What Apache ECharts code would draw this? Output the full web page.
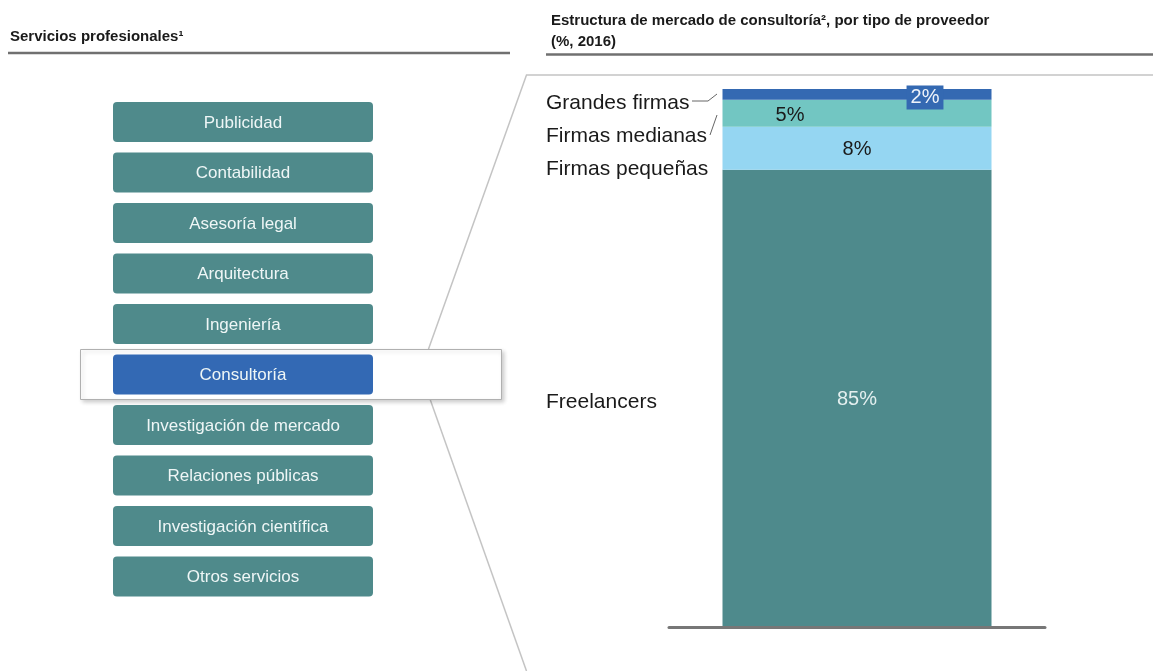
<!DOCTYPE html>
<html>
<head>
<meta charset="utf-8">
<script src="https://cdn.jsdelivr.net/npm/echarts@6/dist/echarts.min.js"></script>
<style>
html,body{margin:0;padding:0;background:#fff;}
#main{width:1153px;height:671px;}
</style>
</head>
<body>
<div id="main"></div>
<script>
// ---- data ----
const services = ['Publicidad','Contabilidad','Asesoría legal','Arquitectura','Ingeniería','Consultoría','Investigación de mercado','Relaciones públicas','Investigación científica','Otros servicios'];
const highlighted = 'Consultoría';
const providers = ['Freelancers','Firmas pequeñas','Firmas medianas','Grandes firmas'];
const shares = [85, 8, 5, 2];
const year = ['2016'];
const leftTitle = 'Servicios profesionales¹';
const rightTitle = 'Estructura de mercado de consultoría², por tipo de proveedor\n(%, 2016)';

// ---- styles ----
const FONT = '"Liberation Sans", Arial, sans-serif';
const colors = ['#4e8a8c', '#95d6f2', '#72c6c2', '#3469b2'];
const labelColors = ['#e3efef', '#1a1a1a', '#1a1a1a', '#eef3fa'];
const labelOffsets = [[0, 1], [0, 1], [-67, 2], [68, 3]];
const nameY = [402, 169, 136, 103];

const chart = echarts.init(document.getElementById('main'));

const graphics = [];
// titles
graphics.push({type:'text', left:10, top:29, style:{text:leftTitle, font:'bold 15px ' + FONT, fill:'#1a1a1a'}});
graphics.push({type:'text', left:551, top:10, style:{text:rightTitle, font:'bold 15px ' + FONT, fill:'#1a1a1a', lineHeight:21}});
// underlines
graphics.push({type:'line', shape:{x1:8,y1:53,x2:510,y2:53}, style:{stroke:'#707070', lineWidth:2.5}});
graphics.push({type:'line', shape:{x1:546,y1:54.5,x2:1153,y2:54.5}, style:{stroke:'#707070', lineWidth:2.5}});
// zoom frame
graphics.push({type:'polyline', shape:{points:[[1153,75],[526.5,75],[428.5,349]]}, style:{stroke:'#c4c4c4', lineWidth:1.5, fill:null}});
graphics.push({type:'line', shape:{x1:430,y1:399,x2:526.5,y2:671}, style:{stroke:'#c4c4c4', lineWidth:1.5}});
// highlight box
graphics.push({type:'rect', shape:{x:80.5,y:349.5,width:421,height:50}, style:{fill:'#fff', stroke:'#b0b0b0', lineWidth:1, shadowColor:'rgba(0,0,0,0.18)', shadowBlur:4, shadowOffsetX:2, shadowOffsetY:2}});
// service buttons
services.forEach((s, i) => {
  const top = 102 + i * 50.5;
  graphics.push({type:'rect', shape:{x:113,y:top,width:260,height:40,r:4},
    style:{fill: s === highlighted ? '#3369b4' : '#4f8a8b'}});
  graphics.push({type:'text', x:243, y:top + 21,
    style:{text:s, font:'17px ' + FONT, fill:'#eef6f6', align:'center', verticalAlign:'middle'}});
});
// provider names
providers.forEach((p, i) => {
  graphics.push({type:'text', x:546, y:nameY[i],
    style:{text:p, font:'21px ' + FONT, fill:'#1a1a1a', align:'left', verticalAlign:'middle'}});
});
// leader lines
graphics.push({type:'polyline', shape:{points:[[692,101],[708,101],[717,94]]}, style:{stroke:'#666', lineWidth:1, fill:null}});
graphics.push({type:'line', shape:{x1:710,y1:135,x2:717,y2:115}, style:{stroke:'#666', lineWidth:1}});

const series = providers.map((p, i) => ({
  name: p,
  type: 'bar',
  stack: 'total',
  barWidth: 269,
  data: [shares[i]],
  itemStyle: {color: colors[i]},
  label: {
    show: true,
    position: 'inside',
    formatter: '{c}%',
    fontFamily: FONT,
    fontSize: 20,
    color: labelColors[i],
    offset: labelOffsets[i],
    backgroundColor: i === 3 ? colors[3] : 'transparent',
    padding: i === 3 ? [2, 4] : 0
  },
  emphasis: {disabled: true}
}));

chart.setOption({
  animation: false,
  backgroundColor: '#fff',
  grid: {left: 669, right: 108, top: 89, bottom: 44, containLabel: false},
  xAxis: {
    type: 'category',
    data: year,
    axisLabel: {show: false},
    axisTick: {show: false},
    axisLine: {show: true, lineStyle: {color: '#777', width: 3}},
    z: 5
  },
  yAxis: {type: 'value', min: 0, max: 100, show: false, splitLine: {show: false}},
  series: series,
  graphic: graphics
});
</script>
</body>
</html>
